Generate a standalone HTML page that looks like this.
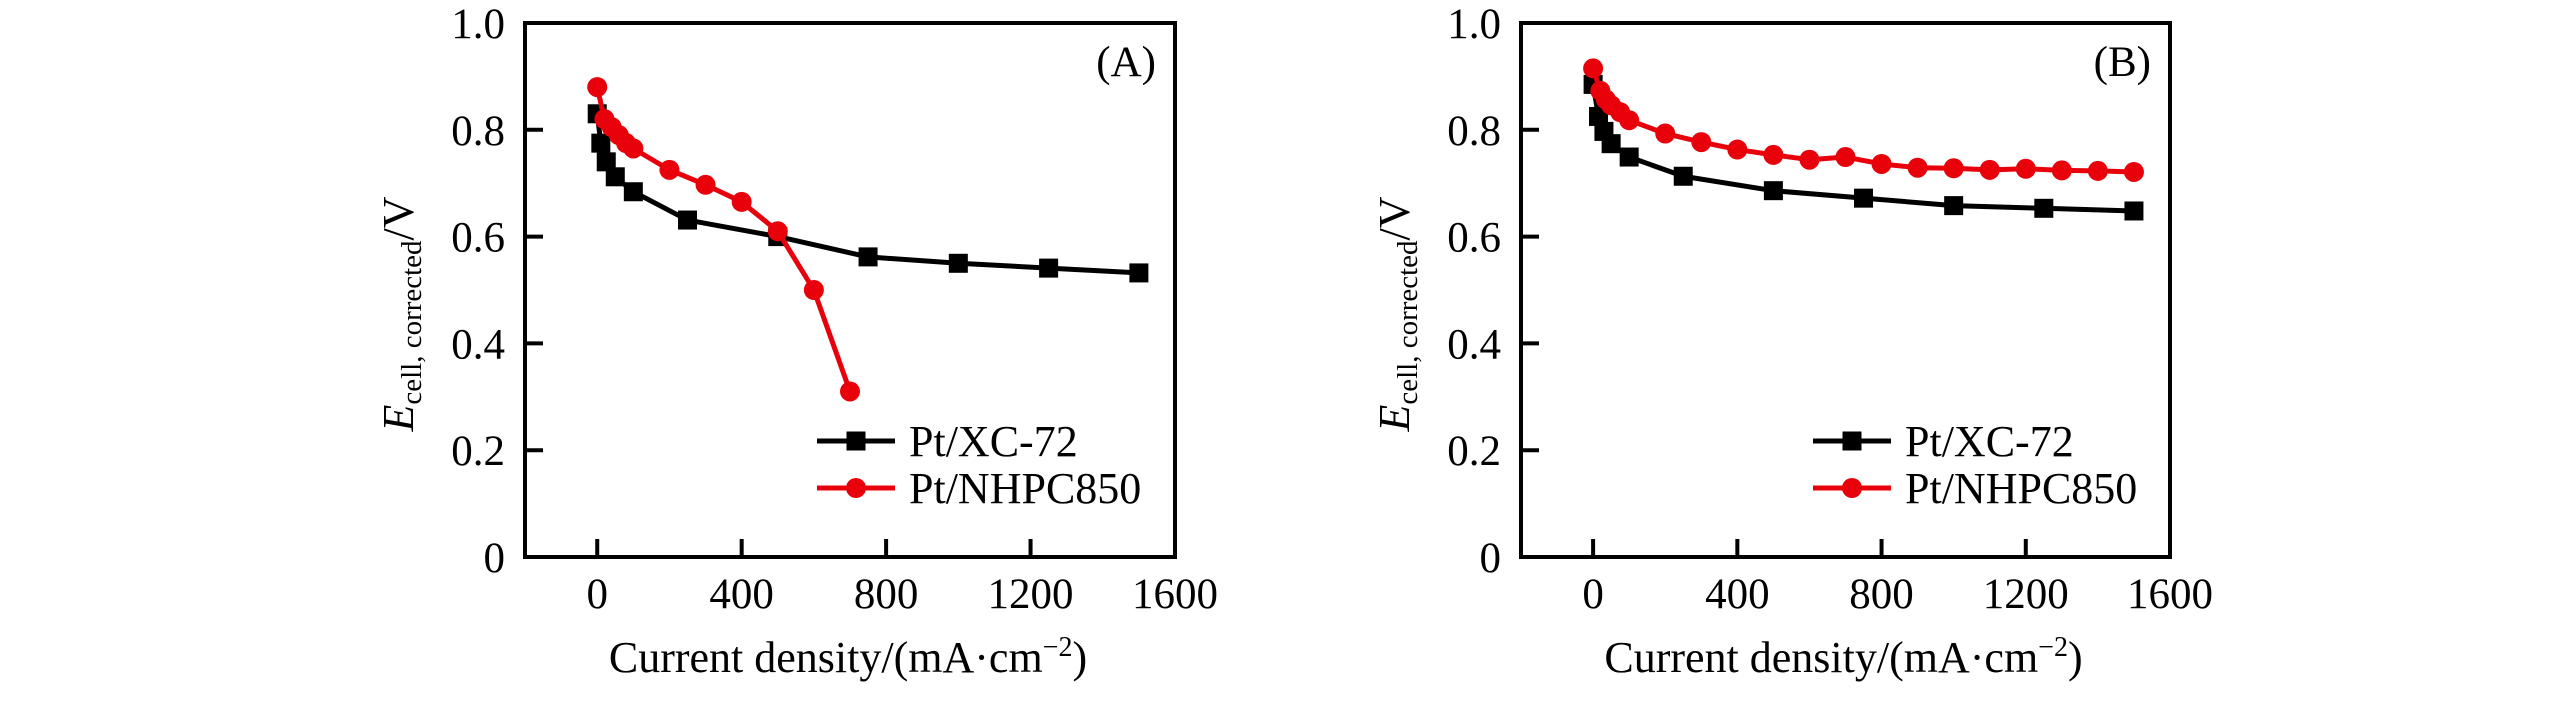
<!DOCTYPE html>
<html><head><meta charset="utf-8"><style>
html,body{margin:0;padding:0;background:#fff;}
svg{display:block;font-family:"Liberation Serif",serif;}
</style></head><body>
<svg id="chart" width="2567" height="701" viewBox="0 0 2567 701" xmlns="http://www.w3.org/2000/svg"></svg>
<script>
const xTicks=[0,400,800,1200,1600];
const yTicks=[0,0.2,0.4,0.6,0.8,1.0];
const yTickLabels=["0","0.2","0.4","0.6","0.8","1.0"];
const seriesNames=["Pt/XC-72","Pt/NHPC850"];
const panelLabels=["(A)","(B)"];
const aXcX=[0,10,25,50,100,250,500,750,1000,1250,1500];
const aXcY=[0.83,0.775,0.74,0.712,0.684,0.631,0.60,0.562,0.55,0.541,0.532];
const aNhX=[0,20,40,60,80,100,200,300,400,500,600,700];
const aNhY=[0.88,0.82,0.805,0.79,0.775,0.765,0.725,0.697,0.665,0.61,0.50,0.31];
const bXcX=[0,15,30,50,100,250,500,750,1000,1250,1500];
const bXcY=[0.885,0.825,0.797,0.774,0.749,0.713,0.686,0.672,0.658,0.653,0.648];
const bNhX=[0,20,35,50,75,100,200,300,400,500,600,700,800,900,1000,1100,1200,1300,1400,1500];
const bNhY=[0.915,0.873,0.857,0.846,0.833,0.818,0.793,0.777,0.763,0.753,0.744,0.749,0.736,0.729,0.728,0.725,0.727,0.724,0.723,0.721];

const NS="http://www.w3.org/2000/svg";
const svg=document.getElementById('chart');
const RED="#e8000b";
function mk(tag,attrs,parent,text){const e=document.createElementNS(NS,tag);for(const k in attrs)e.setAttribute(k,attrs[k]);if(text!==undefined)e.textContent=text;(parent||svg).appendChild(e);return e;}

function panel(idx,left,right,xcX,xcY,nhX,nhY){
  const top=23,bottom=557,xmin=-200,xmax=1600;
  const sx=v=>left+(v-xmin)/(xmax-xmin)*(right-left);
  const sy=v=>bottom-v*(bottom-top);
  const g=mk('g',{});
  
  
  const frame=mk('rect',{x:left,y:top,width:right-left,height:bottom-top,fill:'none',stroke:'#000','stroke-width':4},g);
  
  
  yTicks.forEach((v,i)=>{
    if(v>0&&v<1){const t=mk('line',{x1:left,x2:left+18,y1:sy(v),y2:sy(v),stroke:'#000','stroke-width':4},g);
      }
    const l=mk('text',{x:left-20,y:sy(v)+15,'text-anchor':'end','font-size':43},g,yTickLabels[i]);
    
  });
  xTicks.forEach(v=>{
    if(v<xmax){const t=mk('line',{x1:sx(v),x2:sx(v),y1:bottom,y2:bottom-18,stroke:'#000','stroke-width':4},g);
      }
    const l=mk('text',{x:sx(v),y:608,'text-anchor':'middle','font-size':43},g,String(v));
    
  });
  const xt=mk('text',{x:(left+right)/2-2,y:672,'text-anchor':'middle','font-size':44},g);
  
  xt.innerHTML='Current density/(mA·cm<tspan dy="-16" font-size="28">−2</tspan><tspan dy="16">)</tspan>';
  const yt=mk('text',{transform:`translate(${left-112},${(top+bottom)/2+24}) rotate(-90)`,'text-anchor':'middle','font-size':44},g);
  
  yt.innerHTML='<tspan font-style="italic">E</tspan><tspan font-size="29" dy="8">cell, corrected</tspan><tspan dy="-8">/V</tspan>';
  const pl=mk('text',{x:right-19,y:76,'text-anchor':'end','font-size':43},g,panelLabels[idx]);
  
  const p1=mk('polyline',{points:xcX.map((x,i)=>sx(x)+','+sy(xcY[i])).join(' '),fill:'none',stroke:'#000','stroke-width':5,'stroke-linejoin':'round'},g);
  
  xcX.forEach((x,i)=>{const m=mk('rect',{x:sx(x)-9.5,y:sy(xcY[i])-9.5,width:19,height:19,fill:'#000'},g);
    });
  const p2=mk('polyline',{points:nhX.map((x,i)=>sx(x)+','+sy(nhY[i])).join(' '),fill:'none',stroke:RED,'stroke-width':5,'stroke-linejoin':'round'},g);
  
  nhX.forEach((x,i)=>{const m=mk('circle',{cx:sx(x),cy:sy(nhY[i]),r:10,fill:RED},g);
    });
  const lx=left+292, ly=[441,488];
  seriesNames.forEach((n,i)=>{
    const lg=mk('g',{},g);
    
    const c=i?RED:'#000';
    mk('line',{x1:lx,x2:lx+78,y1:ly[i],y2:ly[i],stroke:c,'stroke-width':5},lg);
    if(i)mk('circle',{cx:lx+39,cy:ly[i],r:10,fill:c},lg);else mk('rect',{x:lx+29.5,y:ly[i]-9.5,width:19,height:19,fill:c},lg);
    mk('text',{x:lx+92,y:ly[i]+15,'font-size':44},lg,n);
  });
}
panel(0,525,1175,aXcX,aXcY,aNhX,aNhY);
panel(1,1521,2170,bXcX,bXcY,bNhX,bNhY);
</script>
</body></html>
